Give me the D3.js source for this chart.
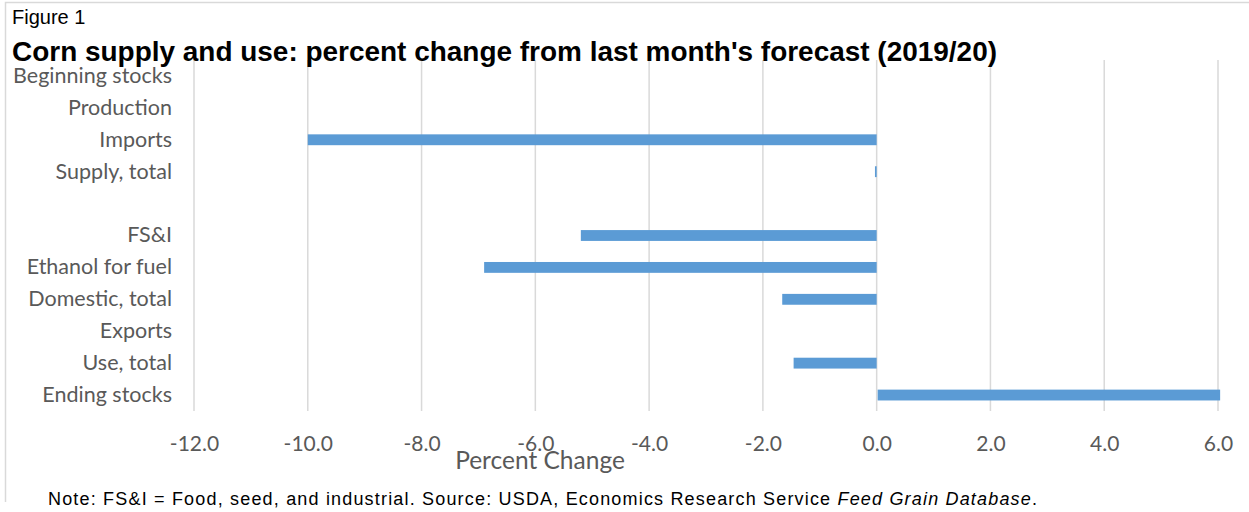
<!DOCTYPE html>
<meta charset="utf-8">
<script src="https://d3js.org/d3.v7.min.js"></script>
<style>
  body { margin: 0; background: #fff; }
</style>
<div id="my_dataviz"></div>
<script>

  // data (blank row separates supply from use)
  var categories = ["Beginning stocks", "Production", "Imports", "Supply, total", " ",
                    "FS&I", "Ethanol for fuel", "Domestic, total", "Exports", "Use, total", "Ending stocks"];
  var values = [0, 0, -10.0, -0.03, 0, -5.2, -6.9, -1.66, 0, -1.46, 6.02];
  var xTicks = [-12, -10, -8, -6, -4, -2, 0, 2, 4, 6];

  var W = 1249, H = 512;
  var plot = {left: 194, right: 1218, top: 60, bottom: 411};

  var svg = d3.select("#my_dataviz")
    .append("svg")
      .attr("width", W)
      .attr("height", H);

  // frame (top and left edges show)
  svg.append("path")
    .attr("d", "M5.5,502V2.5H1249")
    .attr("fill", "none")
    .attr("stroke", "#d9d9d9")
    .attr("stroke-width", 1.5);

  var x = d3.scaleLinear()
    .domain([-12, 6])
    .range([plot.left, plot.right]);

  var y = d3.scaleBand()
    .domain(categories)
    .range([plot.top, plot.bottom])
    .paddingInner(0.66)
    .paddingOuter(0.33);

  // gridlines
  svg.append("g")
    .selectAll("line")
    .data(xTicks)
    .enter().append("line")
      .attr("x1", function(d) { return x(d); })
      .attr("x2", function(d) { return x(d); })
      .attr("y1", plot.top)
      .attr("y2", plot.bottom)
      .attr("stroke", "#d9d9d9")
      .attr("stroke-width", 1.5);

  // bars
  svg.append("g")
    .selectAll("rect")
    .data(categories.map(function(c, i) { return {key: c, value: values[i]}; }))
    .enter().append("rect")
      .attr("x", function(d) { return x(Math.min(0, d.value)) + (d.value > 0 ? 1 : 0); })
      .attr("y", function(d) { return y(d.key); })
      .attr("width", function(d) { return Math.abs(x(d.value) - x(0)); })
      .attr("height", y.bandwidth())
      .attr("fill", "#5b9bd5");

  // y axis labels
  var yAxis = svg.append("g")
    .attr("transform", "translate(" + (plot.left - 22) + ",0)")
    .call(d3.axisLeft(y).tickSize(0).tickPadding(0));
  yAxis.select(".domain").remove();
  yAxis.selectAll("text")
    .attr("fill", "#595959")
    .style("font-family", "Lato, sans-serif")
    .style("font-size", "21.5px");

  // x axis labels (plain hyphen like the original)
  var xAxis = svg.append("g")
    .attr("transform", "translate(0," + plot.bottom + ")")
    .call(d3.axisBottom(x).tickValues(xTicks)
      .tickFormat(function(d) { return d3.format(".1f")(d).replace("\u2212", "-"); })
      .tickSize(0).tickPadding(0));
  xAxis.select(".domain").remove();
  xAxis.selectAll("text")
    .attr("dy", null)
    .attr("y", 40)
    .attr("fill", "#595959")
    .style("font-family", "Lato, sans-serif")
    .style("font-size", "21px");

  // axis title
  svg.append("text")
    .attr("x", 540).attr("y", 469)
    .attr("text-anchor", "middle")
    .attr("fill", "#595959")
    .style("font-family", "Lato, sans-serif")
    .style("font-size", "24.5px")
    .text("Percent Change");

  // headings
  svg.append("text")
    .attr("x", 12).attr("y", 24)
    .style("font-family", '"Liberation Sans", Arial, sans-serif')
    .style("font-size", "20px")
    .text("Figure 1");
  svg.append("text")
    .attr("x", 12).attr("y", 61)
    .attr("textLength", 985)
    .attr("lengthAdjust", "spacingAndGlyphs")
    .style("font-family", '"Liberation Sans", Arial, sans-serif')
    .style("font-size", "27px")
    .style("font-weight", "bold")
    .text("Corn supply and use: percent change from last month's forecast (2019/20)");

  // note
  var note = svg.append("text")
    .attr("x", 48).attr("y", 505)
    .attr("textLength", 989)
    .attr("lengthAdjust", "spacing")
    .style("font-family", '"Liberation Sans", Arial, sans-serif')
    .style("font-size", "18px");
  note.append("tspan").text("Note: FS&I = Food, seed, and industrial. Source: USDA, Economics Research Service ");
  note.append("tspan").style("font-style", "italic").text("Feed Grain Database");
  note.append("tspan").text(".");

</script>
